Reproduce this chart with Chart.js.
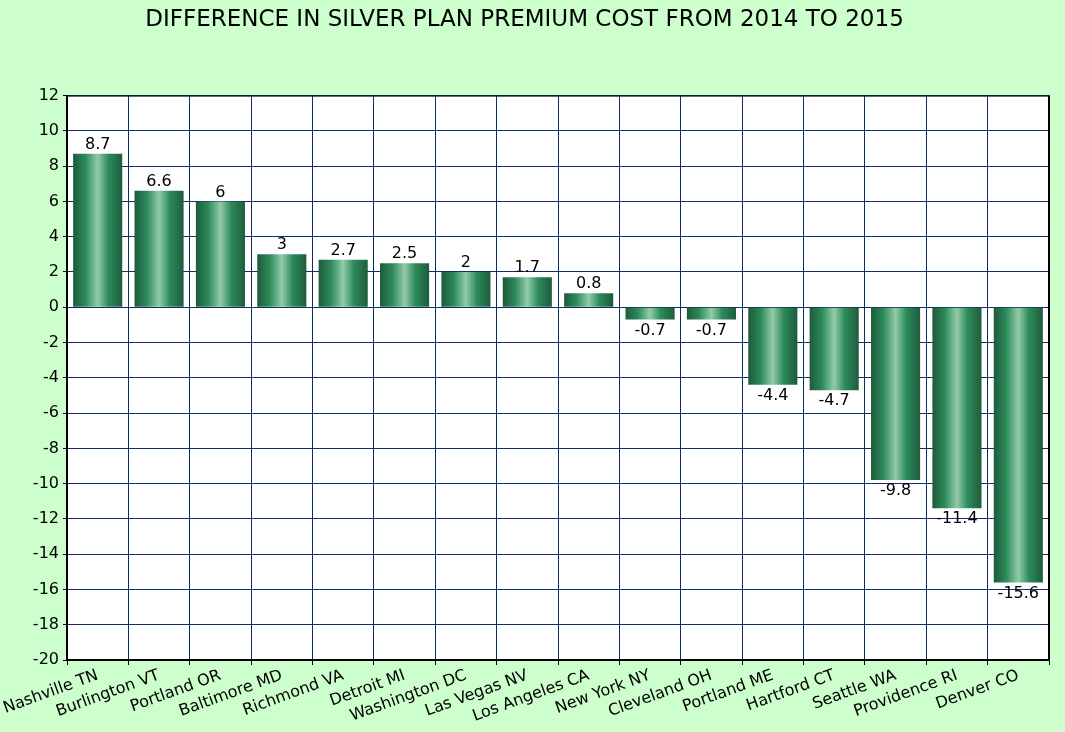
<!DOCTYPE html>
<html>
<head>
<meta charset="utf-8">
<script src="https://cdn.jsdelivr.net/npm/chart.js@4"></script>
<style>
  html, body { margin: 0; padding: 0; background: #ccffcc; }
  #wrap { width: 1065px; height: 732px; }
</style>
</head>
<body>
<div id="wrap"><canvas id="premiumChart"></canvas></div>
<script>
const cities = [
  'Nashville TN', 'Burlington VT', 'Portland OR', 'Baltimore MD', 'Richmond VA',
  'Detroit MI', 'Washington DC', 'Las Vegas NV', 'Los Angeles CA', 'New York NY',
  'Cleveland OH', 'Portland ME', 'Hartford CT', 'Seattle WA', 'Providence RI', 'Denver CO'
];
const premiumDiff = [8.7, 6.6, 6, 3, 2.7, 2.5, 2, 1.7, 0.8, -0.7, -0.7, -4.4, -4.7, -9.8, -11.4, -15.6];
const yMin = -20, yMax = 12, yStep = 2;

const FONT = "'DejaVu Sans', sans-serif";

// horizontal "cylinder" gradient for each bar
function barGradient(ctx) {
  const chart = ctx.chart;
  const xs = chart.scales.x;
  if (!xs || !chart.chartArea) return '#2e8b5e';
  const cx = xs.getPixelForValue(ctx.dataIndex);
  const half = (xs.width / cities.length) * 0.8 / 2;
  const g = chart.ctx.createLinearGradient(cx - half, 0, cx + half, 0);
  g.addColorStop(0, '#1e5a3b');
  g.addColorStop(0.25, '#2c8a5a');
  g.addColorStop(0.5, '#93cba8');
  g.addColorStop(0.72, '#2c8a5a');
  g.addColorStop(1, '#1e5c3c');
  return g;
}

const valueLabels = {
  id: 'valueLabels',
  afterDatasetsDraw(chart) {
    const c = chart.ctx;
    const meta = chart.getDatasetMeta(0);
    c.save();
    c.font = '16px ' + FONT;
    c.fillStyle = '#000';
    c.textAlign = 'center';
    meta.data.forEach((bar, i) => {
      const v = premiumDiff[i];
      if (v >= 0) {
        c.textBaseline = 'bottom';
        c.fillText(String(v), bar.x, bar.y - 1);
      } else {
        c.textBaseline = 'top';
        c.fillText(String(v), bar.x, bar.y + 3);
      }
    });
    c.restore();
  }
};

const frame = {
  id: 'frame',
  beforeDraw(chart) {
    const a = chart.chartArea;
    const c = chart.ctx;
    c.save();
    c.fillStyle = '#ffffff';
    c.fillRect(a.left, a.top, a.right - a.left, a.bottom - a.top);
    c.restore();
  },
  afterDraw(chart) {
    const a = chart.chartArea;
    const c = chart.ctx;
    c.save();
    c.strokeStyle = '#000';
    c.lineWidth = 1;
    c.beginPath();
    c.moveTo(a.left, a.top + 0.5);
    c.lineTo(a.right, a.top + 0.5);
    c.stroke();
    c.lineWidth = 2;
    c.beginPath();
    c.moveTo(a.right, a.top);
    c.lineTo(a.right, a.bottom);
    c.stroke();
    c.restore();
  }
};

new Chart(document.getElementById('premiumChart').getContext('2d'), {
  type: 'bar',
  data: {
    labels: cities,
    datasets: [{
      data: premiumDiff,
      backgroundColor: barGradient,
      borderWidth: 0,
      categoryPercentage: 1,
      barPercentage: 0.8
    }]
  },
  plugins: [frame, valueLabels],
  options: {
    responsive: true,
    maintainAspectRatio: false,
    animation: false,
    layout: { padding: { left: 0, right: 16, top: 0, bottom: 0 } },
    plugins: {
      legend: { display: false },
      tooltip: { enabled: false },
      title: {
        display: true,
        text: 'DIFFERENCE IN SILVER PLAN PREMIUM COST FROM 2014 TO 2015',
        color: '#000',
        font: { family: FONT, size: 23, weight: 'normal' },
        padding: { top: 6, bottom: 62 }
      }
    },
    scales: {
      x: {
        grid: { color: '#0d2f66', lineWidth: 1, tickColor: '#000', tickLength: 5, offset: true },
        border: { color: '#000', width: 2 },
        ticks: {
          color: '#000',
          font: { family: FONT, size: 16 },
          minRotation: 20,
          maxRotation: 20,
          autoSkip: false,
          padding: 1
        },
        afterFit(scale) { scale.height = 72; }
      },
      y: {
        min: yMin,
        max: yMax,
        grid: { color: '#0d2f66', lineWidth: 1, tickColor: '#000', tickLength: 4 },
        border: { color: '#000', width: 2 },
        ticks: {
          stepSize: yStep,
          color: '#000',
          font: { family: FONT, size: 16 },
          padding: 4
        },
        afterFit(scale) { scale.width = 67; }
      }
    }
  }
});
</script>
</body>
</html>
